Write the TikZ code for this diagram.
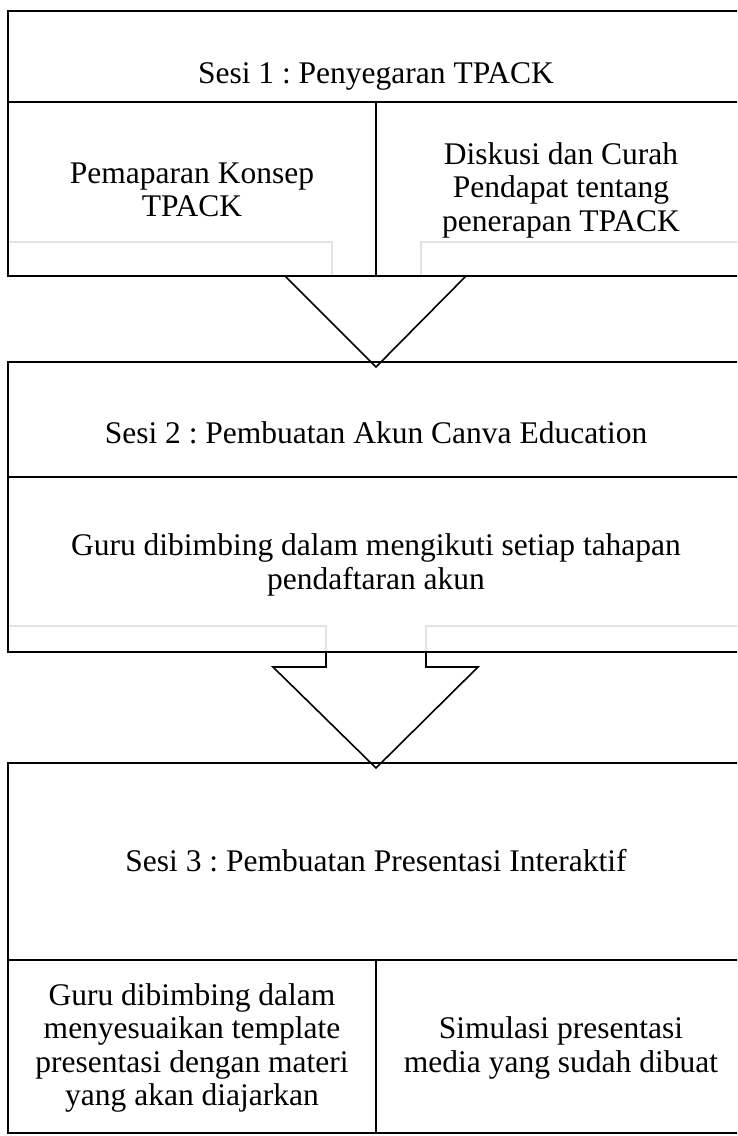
\documentclass[tikz,border=0pt]{standalone}
\usepackage{fontspec}
\setmainfont{Liberation Serif}
\frenchspacing
\begin{document}
\begin{tikzpicture}[x=1pt,y=-1pt,
  frame/.style={draw=black,line width=1.8pt},
  rule/.style={draw=black,line width=1.6pt},
  ghost/.style={draw=black!11,line width=1.5pt},
  head/.style={draw=black,line width=1.6pt,line join=miter},
  txt/.style={align=center,inner sep=0pt,font=\fontsize{31.5}{33.5}\selectfont\frenchspacing}]
\fill[white] (0,0) rectangle (737,1136);
\useasboundingbox (0,0) rectangle (737,1136);
\clip (0,0) rectangle (737,1136);
% ---------- Box 1 ----------
\coordinate (b1tl) at (8,11);
\coordinate (b1br) at (745,276);
\draw[ghost] (8,242) -- (332,242) -- (332,276);
\draw[ghost] (421,276) -- (421,242) -- (745,242);
\draw[frame] (b1tl) rectangle (b1br);
\draw[rule] (8,102) -- (745,102);
\draw[rule] (376,102) -- (376,276);
\node[txt,anchor=base] (s1) at (376,83) {Sesi 1 : Penyegaran TPACK};
\node[txt] (s1a) at (192,190) {Pemaparan Konsep\\TPACK};
\node[txt] (s1b) at (561,190) {Diskusi dan Curah\\Pendapat tentang\\penerapan TPACK};
% ---------- Arrow 1 ----------
\coordinate (a1l) at (332,276);
\coordinate (a1p) at (285,276);
\coordinate (a1t) at (376,367);
\coordinate (a1q) at (466,276);
\coordinate (a1r) at (421,276);
\draw[head] (a1l) -- (a1p) -- (a1t) -- (a1q) -- (a1r);
% ---------- Box 2 ----------
\coordinate (b2tl) at (8,362);
\coordinate (b2br) at (745,652);
\draw[ghost] (8,626) -- (326,626) -- (326,652);
\draw[ghost] (426,652) -- (426,626) -- (745,626);
\draw[frame] (b2tl) rectangle (b2br);
\draw[rule] (8,477) -- (745,477);
\node[txt,anchor=base] (s2) at (376,443) {Sesi 2 : Pembuatan Akun Canva Education};
\node[txt] (s2a) at (376,565) {Guru dibimbing dalam mengikuti setiap tahapan\\pendaftaran akun};
% ---------- Arrow 2 ----------
\coordinate (a2a) at (326,652);
\coordinate (a2b) at (326,667);
\coordinate (a2c) at (273,667);
\coordinate (a2t) at (376,768);
\coordinate (a2d) at (478,667);
\coordinate (a2e) at (426,667);
\coordinate (a2f) at (426,652);
\draw[head] (a2a) -- (a2b) -- (a2c) -- (a2t) -- (a2d) -- (a2e) -- (a2f);
% ---------- Box 3 ----------
\coordinate (b3tl) at (8,763);
\coordinate (b3br) at (745,1133);
\draw[frame] (b3tl) rectangle (b3br);
\draw[rule] (8,960) -- (745,960);
\draw[rule] (376,960) -- (376,1133);
\node[txt,anchor=base] (s3) at (376,871) {Sesi 3 : Pembuatan Presentasi Interaktif};
\node[txt] (s3a) at (192,1048) {Guru dibimbing dalam\\menyesuaikan template\\presentasi dengan materi\\yang akan diajarkan};
\node[txt] (s3b) at (561,1048) {Simulasi presentasi\\media yang sudah dibuat};
\end{tikzpicture}
\end{document}
